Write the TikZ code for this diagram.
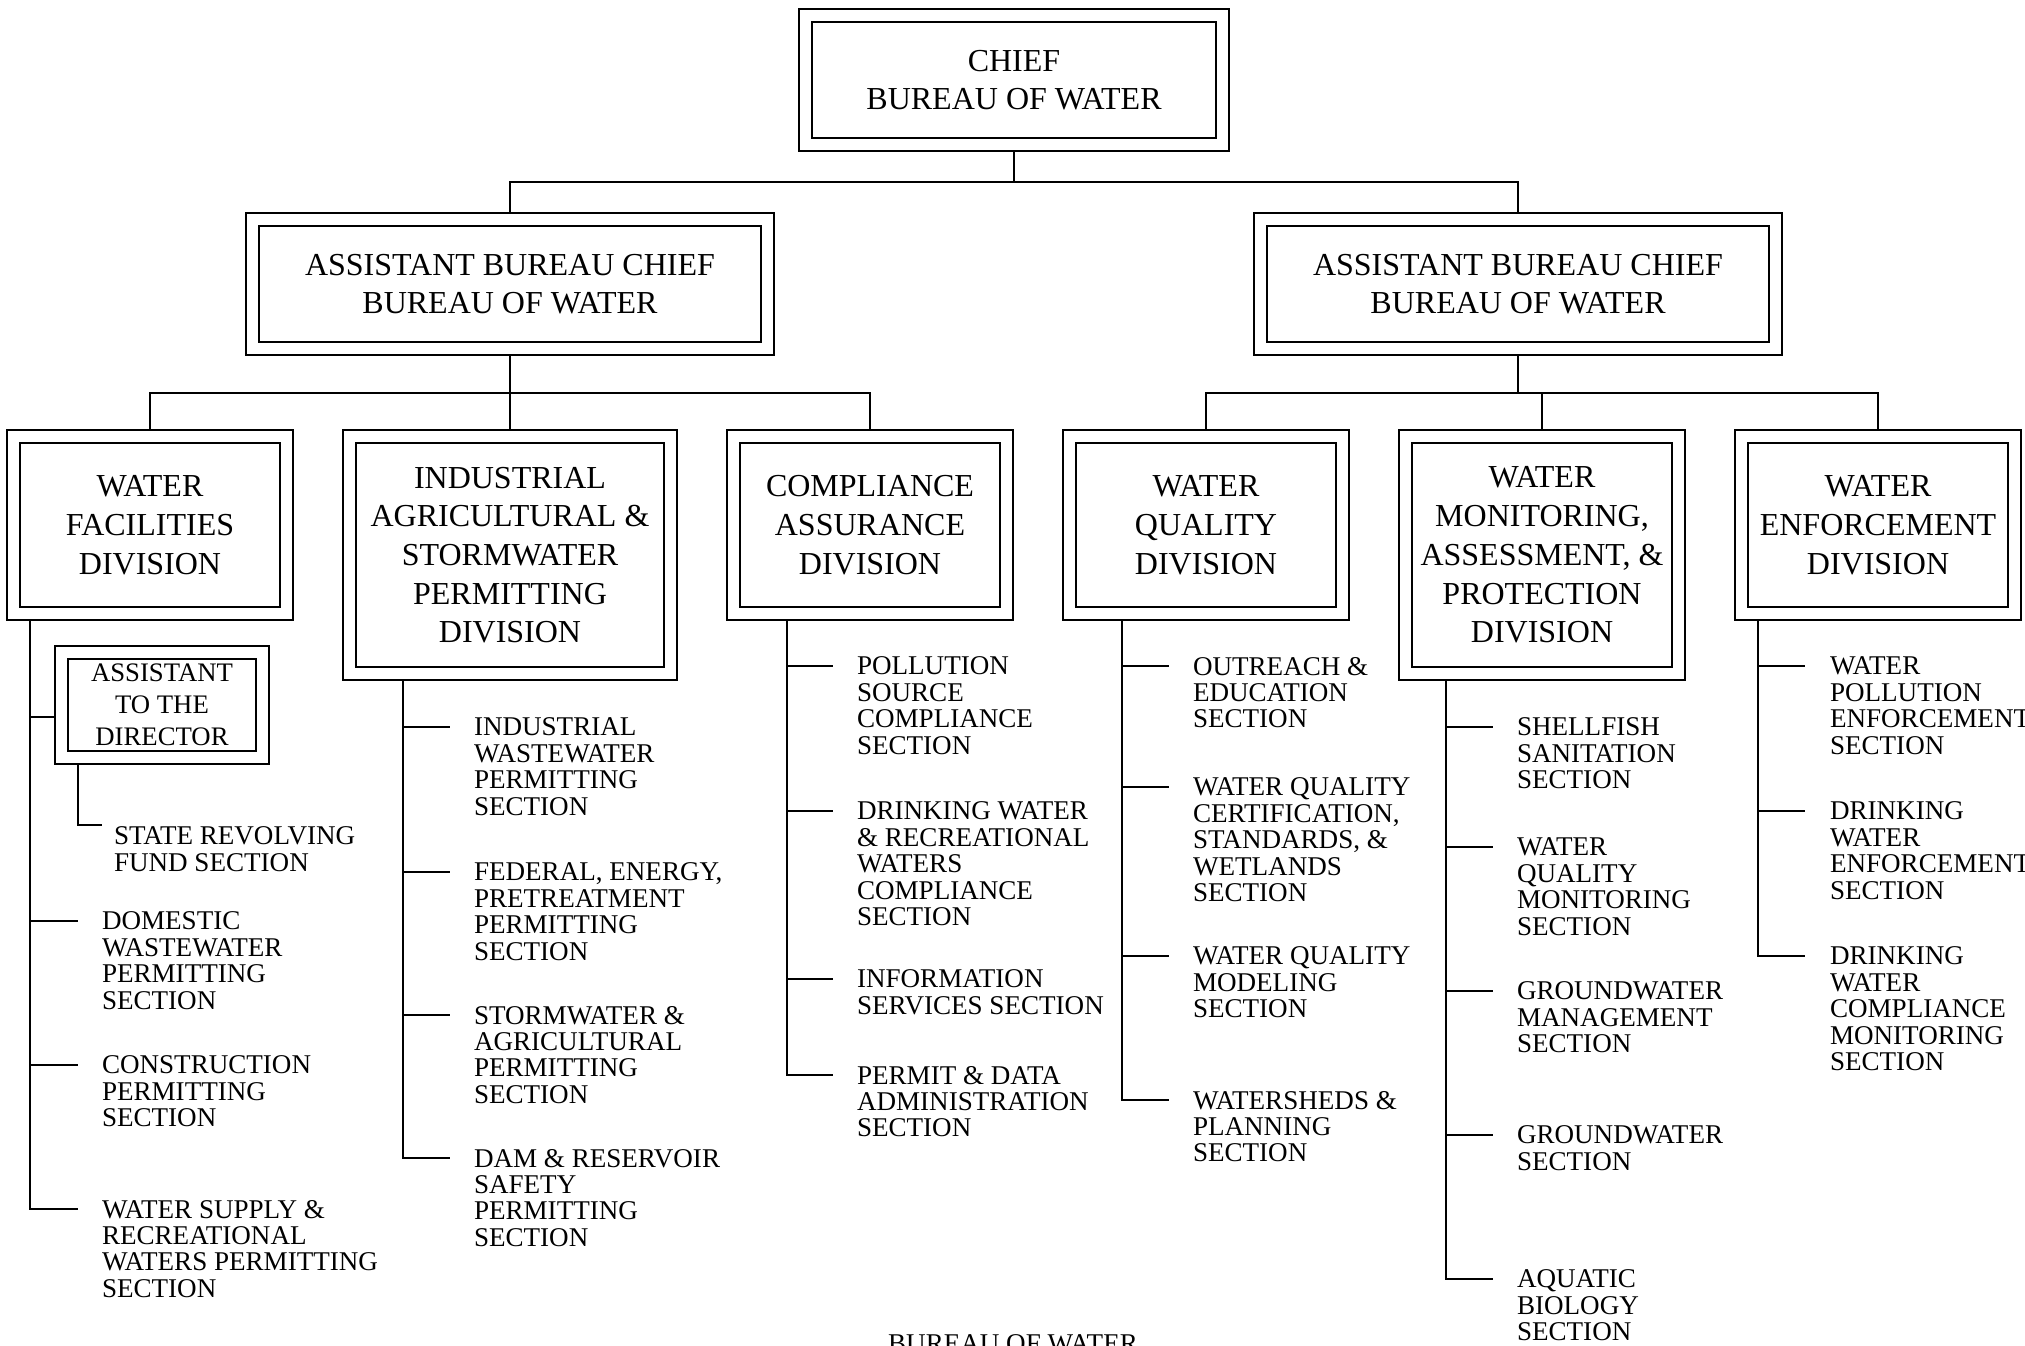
\documentclass[tikz,border=0pt]{standalone}
\usepackage{fontspec}
\setmainfont{Liberation Serif}
\usetikzlibrary{positioning,calc}

\newcommand{\boxfont}{\fontsize{9.1}{11}\selectfont}
\newcommand{\secfont}{\fontsize{7.7}{7.5}\selectfont}

\tikzset{
  unitbox/.style={draw, double, double distance=1.1mm, outer sep=0.75mm,
    inner sep=0pt, align=center, font=\boxfont},
  chiefbox/.style={unitbox, minimum width=4.17cm, minimum height=1.28cm},
  abcbox/.style={unitbox, minimum width=5.14cm, minimum height=1.28cm},
  divbox/.style={unitbox, minimum width=2.73cm, minimum height=1.77cm},
  tallbox/.style={divbox, minimum height=2.37cm},
  smallbox/.style={unitbox, font=\fontsize{7.6}{9.1}\selectfont,
    minimum width=2.01cm, minimum height=1.05cm},
  secnode/.style={anchor=north west, inner sep=0pt, align=left, font=\secfont}
}

\begin{document}
\begin{tikzpicture}[x=0.01cm, y=-0.01cm, line width=0.2mm]
\useasboundingbox (0,0) rectangle (2025,1345);

% chief and the two assistant bureau chiefs
\node[chiefbox] (chief) at (1014,80) {CHIEF\\BUREAU OF WATER};
\node[abcbox] (abcL) at (510,284) {ASSISTANT BUREAU CHIEF\\BUREAU OF WATER};
\node[abcbox] (abcR) at (1518,284) {ASSISTANT BUREAU CHIEF\\BUREAU OF WATER};
\coordinate (bus) at (1014,182);
\draw (chief.south) -- (bus);
\draw (abcL.north) |- (bus) -| (abcR.north);

% divisions
\node[divbox] (wf) at (150,525) {WATER\\FACILITIES\\DIVISION};
\node[tallbox, minimum width=3.21cm] (ind) at (510,555) {INDUSTRIAL\\AGRICULTURAL \&\\STORMWATER\\PERMITTING\\DIVISION};
\node[divbox] (ca) at (870,525) {COMPLIANCE\\ASSURANCE\\DIVISION};
\node[divbox] (wq) at (1206,525) {WATER\\QUALITY\\DIVISION};
\node[tallbox] (wm) at (1542,555) {WATER\\MONITORING,\\ASSESSMENT, \&\\PROTECTION\\DIVISION};
\node[divbox] (we) at (1878,525) {WATER\\ENFORCEMENT\\DIVISION};

\coordinate (busL) at (510,393);
\coordinate (busR) at (1518,393);
\draw (abcL.south) -- (ind.north);
\draw (wf.north) |- (busL) -| (ca.north);
\draw (abcR.south) -- (busR);
\draw (wq.north) |- (busR) -| (we.north);
\draw (wm.north) -- (wm.north |- busR);

% water facilities sections
\node[smallbox] (atd) at (162,705) {ASSISTANT\\TO THE\\DIRECTOR};
\coordinate (atdin) at (30,717);
\draw (atdin) -- (atdin -| atd.west);
\coordinate (srf) at (102,825);
\draw (atd.south -| 78,0) |- (srf);
\node[secnode] (srfs) at (113,826) {STATE REVOLVING\\FUND SECTION};
\coordinate (wf1) at (78,921);
\coordinate (wf2) at (78,1065);
\coordinate (wf3) at (78,1209);
\node[secnode] (wfs1) at (101,911) {DOMESTIC\\WASTEWATER\\PERMITTING\\SECTION};
\node[secnode] (wfs2) at (101,1055) {CONSTRUCTION\\PERMITTING\\SECTION};
\node[secnode] (wfs3) at (101,1199) {WATER SUPPLY \&\\RECREATIONAL\\WATERS PERMITTING\\SECTION};
\foreach \s in {wf1,wf2,wf3}
  \draw (wf.south -| 30,0) |- (\s);

% industrial sections
\coordinate (ind1) at (450,727);
\coordinate (ind2) at (450,872);
\coordinate (ind3) at (450,1015);
\coordinate (ind4) at (450,1158);
\node[secnode] (inds1) at (473,717) {INDUSTRIAL\\WASTEWATER\\PERMITTING\\SECTION};
\node[secnode] (inds2) at (473,862) {FEDERAL, ENERGY,\\PRETREATMENT\\PERMITTING\\SECTION};
\node[secnode] (inds3) at (473,1005) {STORMWATER \&\\AGRICULTURAL\\PERMITTING\\SECTION};
\node[secnode] (inds4) at (473,1148) {DAM \& RESERVOIR\\SAFETY\\PERMITTING\\SECTION};
\foreach \s in {ind1,ind2,ind3,ind4}
  \draw (ind.south -| 403,0) |- (\s);

% compliance sections
\coordinate (ca1) at (833,666);
\coordinate (ca2) at (833,811);
\coordinate (ca3) at (833,979);
\coordinate (ca4) at (833,1075);
\node[secnode] (cas1) at (856,656) {POLLUTION\\SOURCE\\COMPLIANCE\\SECTION};
\node[secnode] (cas2) at (856,801) {DRINKING WATER\\\& RECREATIONAL\\WATERS\\COMPLIANCE\\SECTION};
\node[secnode] (cas3) at (856,969) {INFORMATION\\SERVICES SECTION};
\node[secnode] (cas4) at (856,1065) {PERMIT \& DATA\\ADMINISTRATION\\SECTION};
\foreach \s in {ca1,ca2,ca3,ca4}
  \draw (ca.south -| 787,0) |- (\s);

% water quality sections
\coordinate (wq1) at (1169,666);
\coordinate (wq2) at (1169,787);
\coordinate (wq3) at (1169,956);
\coordinate (wq4) at (1169,1100);
\node[secnode] (wqs1) at (1192,656) {OUTREACH \&\\EDUCATION\\SECTION};
\node[secnode] (wqs2) at (1192,777) {WATER QUALITY\\CERTIFICATION,\\STANDARDS, \&\\WETLANDS\\SECTION};
\node[secnode] (wqs3) at (1192,946) {WATER QUALITY\\MODELING\\SECTION};
\node[secnode] (wqs4) at (1192,1090) {WATERSHEDS \&\\PLANNING\\SECTION};
\foreach \s in {wq1,wq2,wq3,wq4}
  \draw (wq.south -| 1122,0) |- (\s);

% monitoring sections
\coordinate (wm1) at (1493,727);
\coordinate (wm2) at (1493,847);
\coordinate (wm3) at (1493,991);
\coordinate (wm4) at (1493,1135);
\coordinate (wm5) at (1493,1279);
\node[secnode] (wms1) at (1516,717) {SHELLFISH\\SANITATION\\SECTION};
\node[secnode] (wms2) at (1516,837) {WATER\\QUALITY\\MONITORING\\SECTION};
\node[secnode] (wms3) at (1516,981) {GROUNDWATER\\MANAGEMENT\\SECTION};
\node[secnode] (wms4) at (1516,1125) {GROUNDWATER\\SECTION};
\node[secnode] (wms5) at (1516,1269) {AQUATIC\\BIOLOGY\\SECTION};
\foreach \s in {wm1,wm2,wm3,wm4,wm5}
  \draw (wm.south -| 1446,0) |- (\s);

% enforcement sections
\coordinate (we1) at (1805,666);
\coordinate (we2) at (1805,811);
\coordinate (we3) at (1805,956);
\node[secnode] (wes1) at (1829,656) {WATER\\POLLUTION\\ENFORCEMENT\\SECTION};
\node[secnode] (wes2) at (1829,801) {DRINKING\\WATER\\ENFORCEMENT\\SECTION};
\node[secnode] (wes3) at (1829,946) {DRINKING\\WATER\\COMPLIANCE\\MONITORING\\SECTION};
\foreach \s in {we1,we2,we3}
  \draw (we.south -| 1758,0) |- (\s);

% caption, cut off by the page edge
\node[font=\secfont, anchor=base, inner sep=0pt] (title) at (1013,1352) {BUREAU OF WATER};
\end{tikzpicture}
\end{document}
